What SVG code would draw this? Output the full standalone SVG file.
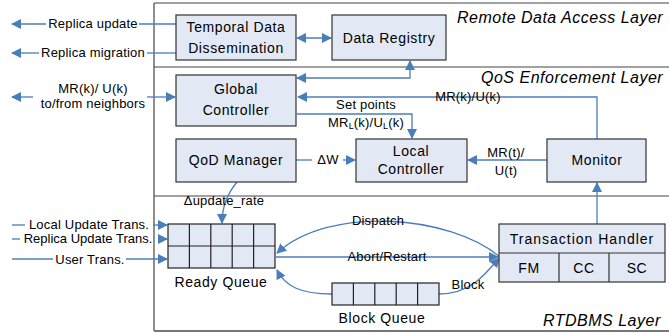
<svg xmlns="http://www.w3.org/2000/svg" width="669" height="333" viewBox="0 0 669 333">
<style>
text{font-family:"Liberation Sans",Arial,sans-serif;fill:#000}
.box{fill:#e3e9f4;stroke:#333;stroke-width:1.2}
.bl{font-size:14px;letter-spacing:0.6px;text-anchor:middle}
.lbl{font-size:13px;letter-spacing:0.2px;text-anchor:middle}
.lay{font-size:16px;font-style:italic;letter-spacing:0.5px}
.frame{stroke:#444;stroke-width:1.2;fill:none}
.c{stroke:#4a7ebb;stroke-width:1.3;fill:none}
.cell{fill:#e3e9f4;stroke:#222;stroke-width:1.2}
</style>
<defs>
<marker id="ah" viewBox="0 0 10 10" refX="9" refY="5" markerWidth="10" markerHeight="10" markerUnits="userSpaceOnUse" orient="auto">
<path d="M0,0 L10,5 L0,10 z" fill="#4a7ebb"/>
</marker>
<marker id="as" viewBox="0 0 10 10" refX="9" refY="5" markerWidth="10" markerHeight="10" markerUnits="userSpaceOnUse" orient="auto-start-reverse">
<path d="M0,0 L10,5 L0,10 z" fill="#4a7ebb"/>
</marker>
</defs>
<g id="layers">
<line class="frame" x1="154" y1="3" x2="669" y2="3"/>
<line class="frame" x1="154" y1="3" x2="154" y2="331"/>
<line class="frame" x1="154" y1="67" x2="669" y2="67"/>
<line class="frame" x1="154" y1="196" x2="669" y2="196"/>
<line x1="154" y1="331" x2="669" y2="331" stroke="#777" stroke-width="2.2"/>
<text class="lay" x="457" y="23">Remote Data Access Layer</text>
<text class="lay" x="481" y="83">QoS Enforcement Layer</text>
<text class="lay" x="543" y="326">RTDBMS Layer</text>
</g>
<g id="connectors">
<line class="c" x1="46" y1="24" x2="12" y2="24" marker-end="url(#ah)"/>
<line class="c" x1="139" y1="24" x2="176" y2="24"/>
<line class="c" x1="39" y1="53" x2="12" y2="53" marker-end="url(#ah)"/>
<line class="c" x1="147" y1="53" x2="176" y2="53"/>
<line class="c" x1="33" y1="97" x2="12" y2="97" marker-end="url(#ah)"/>
<line class="c" x1="147" y1="97" x2="175" y2="97" marker-end="url(#ah)"/>
<line class="c" x1="297" y1="38" x2="331" y2="38" marker-start="url(#as)" marker-end="url(#ah)"/>
<polyline class="c" points="297,78 410,78 410,61" marker-start="url(#as)" marker-end="url(#ah)"/>
<polyline class="c" points="597,139 597,97 298,97" marker-end="url(#ah)"/>
<polyline class="c" points="297,114 412,114 412,138" marker-end="url(#ah)"/>
<line class="c" x1="296" y1="160" x2="312" y2="160"/>
<line class="c" x1="343" y1="160" x2="355" y2="160" marker-end="url(#ah)"/>
<line class="c" x1="547" y1="160" x2="468" y2="160" marker-end="url(#ah)"/>
<line class="c" x1="597" y1="224" x2="597" y2="183" marker-end="url(#ah)"/>
<path class="c" d="M237,182 Q222,200 222,223" marker-end="url(#ah)"/>
<line class="c" x1="12" y1="225" x2="25" y2="225"/>
<line class="c" x1="153" y1="225" x2="167" y2="225" marker-end="url(#ah)"/>
<line class="c" x1="12" y1="239" x2="20" y2="239"/>
<line class="c" x1="158" y1="239" x2="167" y2="239" marker-end="url(#ah)"/>
<line class="c" x1="12" y1="259" x2="53" y2="259"/>
<line class="c" x1="126" y1="259" x2="167" y2="259" marker-end="url(#ah)"/>
<path class="c" d="M500,257 C450,215 330,205 277,253" marker-end="url(#ah)"/>
<line class="c" x1="276" y1="257" x2="498" y2="257" marker-end="url(#ah)"/>
<path class="c" d="M439,294 C470,294 485,275 499,258" marker-end="url(#ah)"/>
<path class="c" d="M332,294 C300,294 285,286 277,270" marker-end="url(#ah)"/>
</g>
<g id="labels">
<text class="lbl" x="93" y="28">Replica update</text>
<text class="lbl" x="93" y="57">Replica migration</text>
<text class="lbl" x="93" y="93">MR(k)/ U(k)</text>
<text class="lbl" x="93" y="108">to/from neighbors</text>
<text class="lbl" x="468" y="101">MR(k)/U(k)</text>
<text class="lbl" x="366" y="109">Set points</text>
<text class="lbl" x="366" y="127">MR<tspan font-size="9" dy="2">L</tspan><tspan dy="-2">(k)/U</tspan><tspan font-size="9" dy="2">L</tspan><tspan dy="-2">(k)</tspan></text>
<text class="lbl" x="328" y="164">ΔW</text>
<text class="lbl" x="506" y="157">MR(t)/</text>
<text class="lbl" x="506" y="175">U(t)</text>
<text class="lbl" x="224" y="205">Δupdate_rate</text>
<text class="lbl" x="89" y="229">Local Update Trans.</text>
<text class="lbl" x="88" y="243" style="letter-spacing:0">Replica Update Trans.</text>
<text class="lbl" x="90" y="264">User Trans.</text>
<text class="lbl" x="378" y="225">Dispatch</text>
<text class="lbl" x="387" y="261">Abort/Restart</text>
<text class="lbl" x="468" y="289">Block</text>
</g>
<g id="temporal-data-dissemination">
<rect class="box" x="176" y="15" width="120" height="45"/>
<text class="bl" x="236" y="32">Temporal Data</text>
<text class="bl" x="236" y="53">Dissemination</text>
</g>
<g id="data-registry">
<rect class="box" x="332" y="15" width="114" height="45"/>
<text class="bl" x="389" y="43">Data Registry</text>
</g>
<g id="global-controller">
<rect class="box" x="176" y="75" width="120" height="51"/>
<text class="bl" x="236" y="94">Global</text>
<text class="bl" x="236" y="115">Controller</text>
</g>
<g id="qod-manager">
<rect class="box" x="176" y="139" width="120" height="43"/>
<text class="bl" x="236" y="165">QoD Manager</text>
</g>
<g id="local-controller">
<rect class="box" x="356" y="139" width="111" height="43"/>
<text class="bl" x="411" y="156">Local</text>
<text class="bl" x="411" y="174">Controller</text>
</g>
<g id="monitor">
<rect class="box" x="547" y="139" width="99" height="43"/>
<text class="bl" x="597" y="165">Monitor</text>
</g>
<g id="transaction-handler">
<rect class="box" x="499" y="224" width="166" height="58"/>
<line x1="499" y1="253" x2="665" y2="253" stroke="#333" stroke-width="1.2"/>
<line x1="559" y1="253" x2="559" y2="282" stroke="#333" stroke-width="1.2"/>
<line x1="609" y1="253" x2="609" y2="282" stroke="#333" stroke-width="1.2"/>
<text class="bl" x="582" y="244" style="letter-spacing:1px">Transaction Handler</text>
<text class="bl" x="529" y="273">FM</text>
<text class="bl" x="584" y="273">CC</text>
<text class="bl" x="637" y="273">SC</text>
</g>
<g id="ready-queue">
<rect class="cell" x="168" y="224" width="107" height="44"/>
<path d="M189.4,224V268M210.8,224V268M232.2,224V268M253.6,224V268M168,246H275" stroke="#222" stroke-width="1.2"/>
<text class="bl" x="221" y="287">Ready Queue</text>
</g>
<g id="block-queue">
<rect class="cell" x="332" y="283" width="107" height="22"/>
<path d="M353.4,283V305M374.8,283V305M396.2,283V305M417.6,283V305" stroke="#222" stroke-width="1.2"/>
<text class="bl" x="382" y="323">Block Queue</text>
</g>
</svg>
